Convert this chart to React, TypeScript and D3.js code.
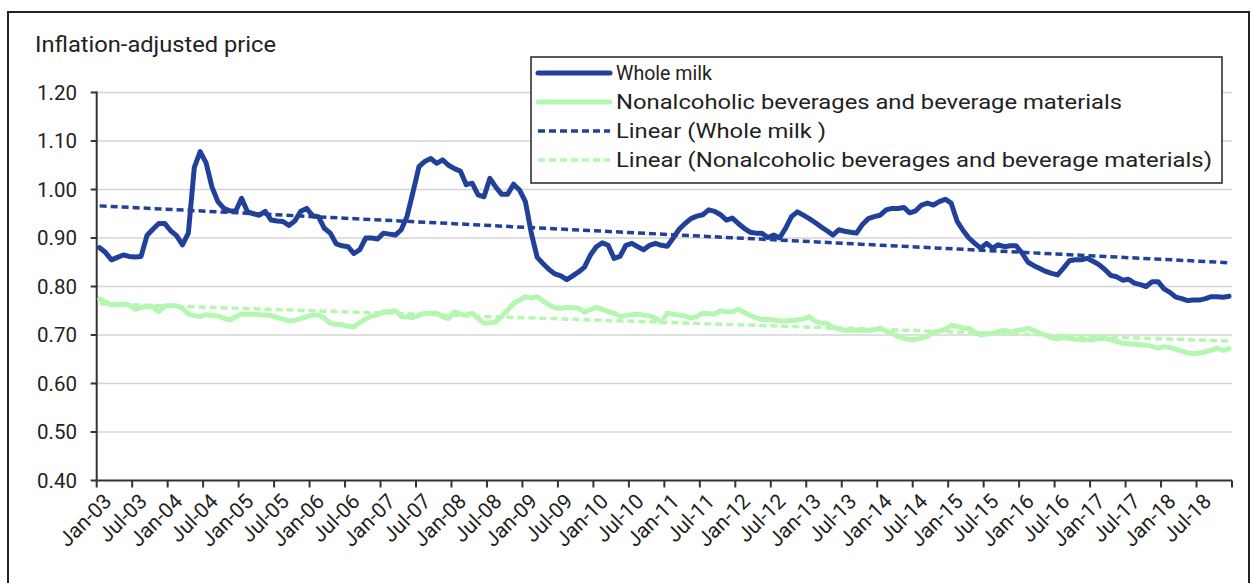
import React from 'react';
import * as d3 from 'd3';

// monthly inflation-adjusted prices, Jan 2003 - Dec 2018
const wholeMilk: number[] = [
  // 2003
  0.88, 0.87, 0.855, 0.86, 0.865, 0.862, 0.861, 0.862, 0.905, 0.918, 0.93, 0.93,
  // 2004
  0.915, 0.905, 0.886, 0.91, 1.045, 1.078, 1.055, 1.005, 0.975, 0.961, 0.956, 0.955,
  // 2005
  0.982, 0.954, 0.95, 0.947, 0.955, 0.937, 0.935, 0.934, 0.926, 0.935, 0.955, 0.961,
  // 2006
  0.946, 0.944, 0.92, 0.91, 0.888, 0.884, 0.882, 0.868, 0.876, 0.9, 0.9, 0.898,
  // 2007
  0.91, 0.908, 0.906, 0.917, 0.945, 0.995, 1.047, 1.058, 1.064, 1.054, 1.061, 1.05,
  // 2008
  1.043, 1.038, 1.01, 1.013, 0.989, 0.985, 1.023, 1.005, 0.99, 0.99, 1.011, 0.999,
  // 2009
  0.975, 0.91, 0.86, 0.847, 0.835, 0.826, 0.822, 0.814, 0.822, 0.83, 0.84, 0.865,
  // 2010
  0.882, 0.89, 0.885, 0.858, 0.862, 0.885, 0.889, 0.882, 0.876, 0.885, 0.889, 0.885,
  // 2011
  0.883, 0.9, 0.918, 0.93, 0.94, 0.945, 0.948, 0.958, 0.955, 0.948, 0.937, 0.941,
  // 2012
  0.93, 0.92, 0.912, 0.91, 0.91, 0.901, 0.906, 0.9, 0.92, 0.944, 0.954, 0.947,
  // 2013
  0.94, 0.932, 0.923, 0.915, 0.906, 0.917, 0.914, 0.912, 0.91, 0.928, 0.94, 0.944,
  // 2014
  0.947, 0.958, 0.961, 0.961, 0.963, 0.952, 0.956, 0.968, 0.972, 0.968, 0.975, 0.98,
  // 2015
  0.972, 0.935, 0.916, 0.9, 0.889, 0.879, 0.889, 0.879, 0.886, 0.882, 0.884, 0.884,
  // 2016
  0.869, 0.85, 0.843, 0.837, 0.831, 0.827, 0.824, 0.838, 0.853, 0.855, 0.855, 0.858,
  // 2017
  0.852, 0.845, 0.835, 0.823, 0.82, 0.813, 0.815, 0.807, 0.804, 0.8, 0.81, 0.81,
  // 2018
  0.795, 0.788, 0.778, 0.775, 0.771, 0.772, 0.772, 0.775, 0.779, 0.779, 0.778, 0.78,
];

const beverages: number[] = [
  // 2003
  0.774, 0.768, 0.762, 0.763, 0.764, 0.762, 0.753, 0.757, 0.758, 0.758, 0.748, 0.76,
  // 2004
  0.761, 0.76, 0.755, 0.743, 0.74, 0.738, 0.742, 0.74, 0.739, 0.735, 0.731, 0.738,
  // 2005
  0.743, 0.743, 0.743, 0.742, 0.741, 0.74, 0.736, 0.733, 0.729, 0.73, 0.734, 0.738,
  // 2006
  0.741, 0.741, 0.735, 0.724, 0.722, 0.721, 0.718, 0.717, 0.726, 0.733, 0.739, 0.741,
  // 2007
  0.748, 0.748, 0.75, 0.738, 0.737, 0.736, 0.741, 0.745, 0.745, 0.745, 0.738, 0.734,
  // 2008
  0.748, 0.743, 0.741, 0.745, 0.734, 0.724, 0.725, 0.727, 0.738, 0.752, 0.765, 0.772,
  // 2009
  0.779, 0.776, 0.779, 0.77, 0.762, 0.756, 0.755, 0.757, 0.756, 0.755, 0.747, 0.752,
  // 2010
  0.757, 0.753, 0.748, 0.745, 0.738, 0.74, 0.742, 0.743, 0.741, 0.739, 0.735, 0.727,
  // 2011
  0.745, 0.743, 0.741, 0.739, 0.735, 0.738, 0.745, 0.744, 0.743, 0.75, 0.748, 0.748,
  // 2012
  0.753, 0.747, 0.74, 0.736, 0.732, 0.732, 0.731, 0.729, 0.729, 0.73, 0.731, 0.733,
  // 2013
  0.738, 0.728, 0.725, 0.724, 0.716, 0.712, 0.71, 0.71, 0.71, 0.71, 0.709, 0.711,
  // 2014
  0.714, 0.708, 0.703, 0.697, 0.693, 0.69, 0.691, 0.693, 0.697, 0.706, 0.708, 0.712,
  // 2015
  0.72, 0.718, 0.714, 0.714, 0.706, 0.7, 0.702, 0.704, 0.707, 0.71, 0.706, 0.709,
  // 2016
  0.711, 0.714, 0.709, 0.704, 0.7, 0.694, 0.692, 0.695, 0.693, 0.691, 0.69, 0.69,
  // 2017
  0.69, 0.693, 0.693, 0.69, 0.687, 0.683, 0.682, 0.681, 0.68, 0.679, 0.676, 0.673,
  // 2018
  0.676, 0.674, 0.671, 0.667, 0.663, 0.662, 0.663, 0.665, 0.669, 0.673, 0.668, 0.672,
];

const yTicks = [0.4, 0.5, 0.6, 0.7, 0.8, 0.9, 1.0, 1.1, 1.2];

const legendLabels = [
  'Whole milk',
  'Nonalcoholic beverages and beverage materials',
  'Linear (Whole milk )',
  'Linear (Nonalcoholic beverages and beverage materials)',
];
const legendWidths = [96, 506, 210, 596];

const MILK = '#21409a';
const BEV = '#b5f7b0';
const FONT = 'Roboto, "Liberation Sans", Arial, sans-serif';

const months = d3.timeMonth.range(new Date(2003, 0, 1), new Date(2019, 0, 1));
const fmt = d3.timeFormat('%b-%y');

// least squares fit, like Excel's linear trendline
function linearFit(vals: number[]) {
  const n = vals.length;
  const mx = d3.mean(vals, (_, i) => i) as number;
  const my = d3.mean(vals) as number;
  let sxy = 0, sxx = 0;
  vals.forEach((v, i) => { sxy += (i - mx) * (v - my); sxx += (i - mx) * (i - mx); });
  const b = sxy / sxx;
  const a = my - b * mx;
  return [a, a + b * (n - 1)];
}

export default function App() {
  const width = 1253;
  const height = 583;
  const left = 96.7, right = 1232, top = 92.5, bottom = 480.5;

  const x = d3.scaleBand<Date>().domain(months).range([left, right]).padding(0);
  const cx = (i: number) => (x(months[i]) as number) + x.bandwidth() / 2;
  const y = d3.scaleLinear().domain([0.4, 1.2]).range([bottom, top]);

  const line = d3.line<number>().x((_, i) => cx(i)).y(d => y(d));

  const milkFit = linearFit(wholeMilk);
  const bevFit = linearFit(beverages);
  const n = months.length;

  const tickIdx = d3.range(0, n + 1, 6);

  return (
    <div style={{ position: 'fixed', left: 0, top: 0 }}>
      <svg width={width} height={height} style={{ display: 'block', background: '#fff' }}>
        <rect x={8} y={12} width={1241} height={600} fill="#fff" stroke="#222" strokeWidth={2} />
        <text x={35} y={52} fontFamily={FONT} fontSize={22} fill="#222"
          textLength={241} lengthAdjust="spacingAndGlyphs">Inflation-adjusted price</text>

        {/* grid */}
        {yTicks.filter(t => t > 0.4).map(t => (
          <line key={t} x1={left} x2={right} y1={y(t)} y2={y(t)} stroke="#d4d4d4" strokeWidth={1.5} />
        ))}

        {/* y axis */}
        <line x1={left} x2={left} y1={top - 1} y2={bottom} stroke="#333" strokeWidth={2} />
        {yTicks.map(t => (
          <g key={t}>
            <line x1={left - 6} x2={left} y1={y(t)} y2={y(t)} stroke="#333" strokeWidth={2} />
            <text x={77} y={y(t)} dy="0.36em" textAnchor="end" fontFamily={FONT} fontSize={20.5} fill="#222">
              {t.toFixed(2)}
            </text>
          </g>
        ))}

        {/* x axis */}
        <line x1={left} x2={right} y1={bottom} y2={bottom} stroke="#333" strokeWidth={2} />
        {tickIdx.map(i => {
          const tx = i < n ? (x(months[i]) as number) : right;
          return <line key={i} x1={tx} x2={tx} y1={bottom} y2={bottom + 7} stroke="#333" strokeWidth={2} />;
        })}
        {tickIdx.filter(i => i < n).map(i => {
          const tx = cx(i) + 8;
          const ty = bottom + 17;
          return (
            <text key={i} x={tx} y={ty} transform={`rotate(-45 ${tx} ${ty})`} textAnchor="end"
              dy="0.35em" fontFamily={FONT} fontSize={21} fill="#222">
              {fmt(months[i])}
            </text>
          );
        })}

        {/* series */}
        <path d={line(beverages) as string} fill="none" stroke={BEV} strokeWidth={5} strokeLinejoin="round" strokeLinecap="round" />
        <path d={line(wholeMilk) as string} fill="none" stroke={MILK} strokeWidth={5} strokeLinejoin="round" strokeLinecap="round" />

        {/* trendlines */}
        <line x1={cx(0)} x2={cx(n - 1)} y1={y(bevFit[0])} y2={y(bevFit[1])} stroke={BEV} strokeWidth={3.5} strokeDasharray="7 4" />
        <line x1={cx(0)} x2={cx(n - 1)} y1={y(milkFit[0])} y2={y(milkFit[1])} stroke={MILK} strokeWidth={3.5} strokeDasharray="7 4" />

        {/* legend */}
        <rect x={531} y={57} width={691} height={126} fill="#fff" stroke="#222" strokeWidth={1.5} />
        {legendLabels.map((label, k) => {
          const ly = 73 + k * 29;
          const color = k % 2 === 0 ? MILK : BEV;
          const dashed = k >= 2;
          return (
            <g key={label}>
              <line x1={538} x2={610} y1={ly} y2={ly} stroke={color}
                strokeWidth={dashed ? 3.5 : 5} strokeLinecap={dashed ? 'butt' : 'round'}
                strokeDasharray={dashed ? '7 4' : undefined} />
              <text x={616} y={ly} dy="0.35em" fontFamily={FONT} fontSize={21} fill="#222"
                textLength={legendWidths[k]} lengthAdjust="spacingAndGlyphs">{label}</text>
            </g>
          );
        })}
      </svg>
    </div>
  );
}
